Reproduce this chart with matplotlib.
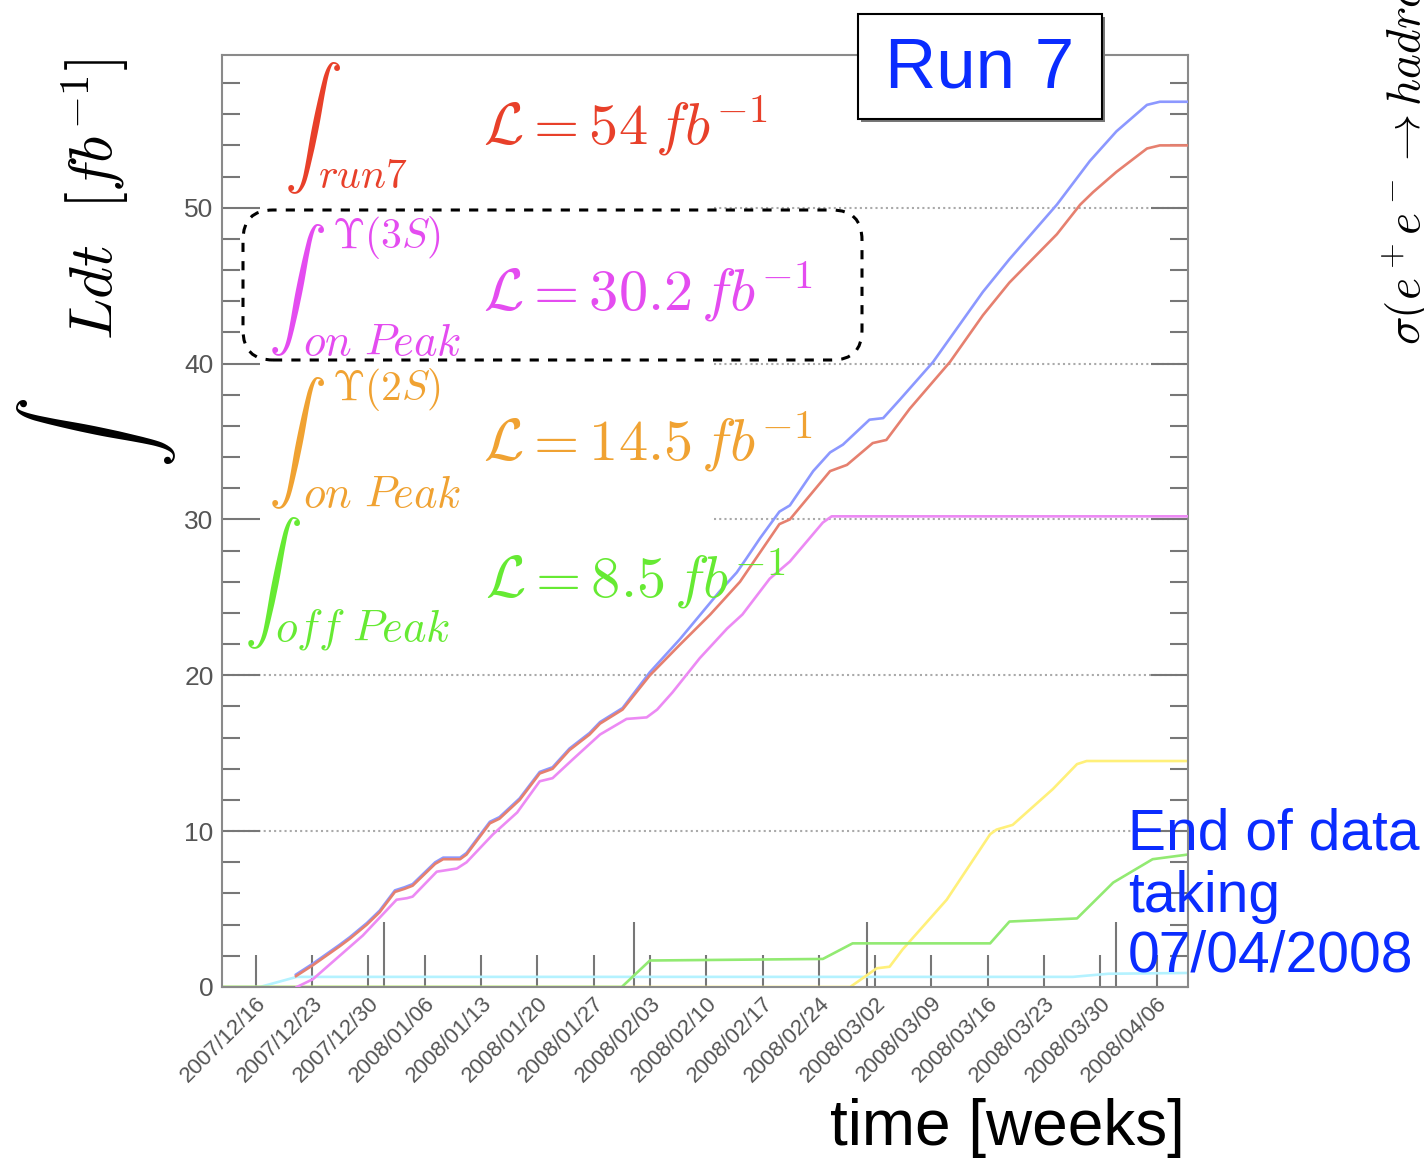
import numpy as np
import matplotlib
matplotlib.use("Agg")
import matplotlib.pyplot as plt
import matplotlib.dates as mdates
from matplotlib.ticker import MultipleLocator
from matplotlib.patches import FancyBboxPatch, Rectangle
from matplotlib.transforms import IdentityTransform

plt.rcParams['mathtext.fontset'] = 'cm'
plt.rcParams['font.family'] = ['Liberation Sans', 'DejaVu Sans']

# Data: days since 2007/12/16, integrated luminosity in fb^-1
blue_days = [5.0, 7.1, 10.4, 11.7, 13.8, 15.4, 17.3, 18.5, 19.5, 22.3, 23.3, 25.4, 26.2,
             29.1, 30.3, 32.8, 35.3, 36.9, 39.0, 41.5, 42.8, 45.6, 49.0, 52.7, 57.7,
             59.8, 61.0, 62.7, 65.1, 66.4, 69.3, 71.4, 73.0, 76.3, 78.0, 80.1, 84.2,
             90.4, 93.7, 99.6, 103.7, 107.0, 110.8, 112.4, 115.9]
blue_vals = [0.8, 1.5, 2.7, 3.2, 4.1, 4.9, 6.2, 6.4, 6.6, 8.0, 8.3, 8.3, 8.6,
             10.6, 10.9, 12.1, 13.8, 14.1, 15.3, 16.3, 17.0, 17.9, 20.2, 22.3, 25.4,
             26.6, 27.5, 28.8, 30.5, 30.9, 33.1, 34.3, 34.8, 36.4, 36.5, 37.7, 40.1,
             44.6, 46.7, 50.2, 53.0, 54.9, 56.6, 56.8, 56.8]

run7_days = [5.0, 7.1, 10.4, 11.7, 13.8, 15.4, 17.3, 18.5, 19.5, 22.3, 23.3, 25.4, 26.2,
             29.1, 30.3, 32.8, 35.3, 36.9, 39.0, 41.5, 42.8, 45.6, 49.0, 52.7, 56.5,
             60.2, 65.1, 66.4, 71.4, 73.5, 76.7, 78.4, 81.3, 86.3, 90.4, 93.7, 99.6,
             102.5, 104.1, 107.0, 110.8, 112.4, 115.9]
run7_vals = [0.7, 1.4, 2.6, 3.1, 4.0, 4.8, 6.1, 6.3, 6.5, 7.9, 8.2, 8.2, 8.5,
             10.5, 10.8, 12.0, 13.7, 14.0, 15.2, 16.2, 16.9, 17.8, 20.0, 21.95, 23.9,
             26.0, 29.7, 30.0, 33.1, 33.5, 34.9, 35.1, 37.1, 40.1, 43.1, 45.2, 48.3,
             50.2, 51.0, 52.3, 53.8, 54.0, 54.0]

y3s_days = [5.1, 7.1, 13.3, 17.5, 18.8, 19.5, 22.5, 25.0, 26.2, 29.5, 32.5, 35.3, 36.9,
            39.4, 42.8, 46.1, 48.6, 49.9, 51.8, 55.2, 58.6, 60.5, 63.9, 66.4, 70.5,
            71.6, 115.9]
y3s_vals = [0.0, 0.5, 3.3, 5.6, 5.7, 5.8, 7.4, 7.6, 8.0, 9.8, 11.2, 13.2, 13.4,
            14.6, 16.2, 17.2, 17.3, 17.8, 18.9, 21.1, 23.0, 23.9, 26.2, 27.3, 29.8,
            30.2, 30.2]

y2s_days = [-4.2, 73.9, 77.2, 78.8, 80.4, 85.9, 91.3, 92.1, 94.1, 99.1, 102.1, 103.3, 115.9]
y2s_vals = [0.0, 0.0, 1.2, 1.3, 2.4, 5.6, 9.8, 10.1, 10.4, 12.7, 14.3, 14.5, 14.5]

off_days = [-4.2, 45.5, 49.0, 70.5, 74.2, 91.3, 93.7, 102.1, 106.6, 111.5, 115.9]
off_vals = [0.0, 0.0, 1.7, 1.8, 2.8, 2.8, 4.2, 4.4, 6.7, 8.2, 8.5]

other_days = [-4.2, 0.5, 5.1, 101.6, 106.0, 115.9]
other_vals = [0.0, 0.0, 0.65, 0.65, 0.85, 0.9]

tick_labels = ['2007/12/16', '2007/12/23', '2007/12/30', '2008/01/06', '2008/01/13',
               '2008/01/20', '2008/01/27', '2008/02/03', '2008/02/10', '2008/02/17',
               '2008/02/24', '2008/03/02', '2008/03/09', '2008/03/16', '2008/03/23',
               '2008/03/30', '2008/04/06']

start = np.datetime64('2007-12-16T00:00')


def to_dates(days):
    return start + (np.asarray(days, dtype=float) * 1440).round().astype('timedelta64[m]')


W, H = 1424, 1158
fig = plt.figure(figsize=(W / 100, H / 100), dpi=100)
ax = fig.add_axes([222 / W, (H - 987) / H, (1188 - 222) / W, (987 - 55) / H])

# grid lines (partly hidden behind the labels in the original)
ax.hlines([10, 20], to_dates(-4.2), to_dates(115.9), colors='#aaaaaa',
          linestyles=(0, (1, 1.5)), lw=1.5, zorder=1)
ax.hlines([30, 40, 50], to_dates(57), to_dates(115.9), colors='#aaaaaa',
          linestyles=(0, (1, 1.5)), lw=1.5, zorder=1)

lw = 1.9
ax.plot(to_dates(other_days), other_vals, color='#b4f2ff', lw=lw, zorder=2)
ax.plot(to_dates(y2s_days), y2s_vals, color='#fff07a', lw=lw, zorder=2)
ax.plot(to_dates(off_days), off_vals, color='#92ea72', lw=lw, zorder=2)
ax.plot(to_dates(y3s_days), y3s_vals, color='#ec8af4', lw=lw, zorder=3)
ax.plot(to_dates(blue_days), blue_vals, color='#8c98ff', lw=lw, zorder=3)
ax.plot(to_dates(run7_days), run7_vals, color='#e6806f', lw=lw, zorder=4)

ax.set_xlim(to_dates(-4.2), to_dates(115.9))
ax.set_ylim(0, 59.8)

tick_dates = [np.datetime64(s.replace('/', '-')) for s in tick_labels]
ax.set_xticks(tick_dates)
ax.set_xticklabels(tick_labels)
ax.xaxis.set_minor_locator(mdates.MonthLocator())
ax.set_yticks([0, 10, 20, 30, 40, 50])
ax.yaxis.set_minor_locator(MultipleLocator(2))

for s in ax.spines.values():
    s.set_color('#8a8a8a')
    s.set_linewidth(1.5)

ax.tick_params(axis='both', which='both', direction='in', color='#777777', width=1.5,
               labelcolor='#555555')
ax.tick_params(axis='y', which='both', left=True, right=True)
ax.tick_params(axis='y', which='major', length=27, labelsize=19, pad=6)
ax.tick_params(axis='y', which='minor', length=13)
ax.tick_params(axis='x', which='major', length=23, labelsize=16, pad=4)
ax.tick_params(axis='x', which='minor', length=47)
plt.setp(ax.get_xticklabels(), rotation=45, ha='right', rotation_mode='anchor')


def ftxt(x, y, s, **kw):
    return fig.text(x / W, 1 - y / H, s, **kw)


red, mag, ora, grn = '#e8402a', '#e44cf0', '#f0a232', '#66ea33'
int_size = 42

ftxt(312, 128, r'$\int$', fontsize=int_size, color=red, ha='center', va='center')
ftxt(318, 188, r'$run7$', fontsize=30, color=red, va='baseline')
ftxt(483, 145, r'$\mathcal{L} = 54\,fb^{-1}$', fontsize=42, color=red, va='baseline')

ftxt(297, 290, r'$\int$', fontsize=int_size, color=mag, ha='center', va='center')
ftxt(332, 248, r'$\Upsilon(3S)$', fontsize=30, color=mag, va='baseline')
ftxt(303, 355, r'$on\ Peak$', fontsize=32, color=mag, va='baseline')
ftxt(483, 310, r'$\mathcal{L} = 30.2\,fb^{-1}$', fontsize=42, color=mag, va='baseline')

ftxt(297, 443, r'$\int$', fontsize=int_size, color=ora, ha='center', va='center')
ftxt(332, 400, r'$\Upsilon(2S)$', fontsize=30, color=ora, va='baseline')
ftxt(303, 507, r'$on\ Peak$', fontsize=32, color=ora, va='baseline')
ftxt(483, 460, r'$\mathcal{L} = 14.5\,fb^{-1}$', fontsize=42, color=ora, va='baseline')

ftxt(272, 583, r'$\int$', fontsize=int_size, color=grn, ha='center', va='center')
ftxt(275, 640, r'$off\ Peak$', fontsize=32, color=grn, va='baseline')
ftxt(485, 597, r'$\mathcal{L} = 8.5\,fb^{-1}$', fontsize=42, color=grn, va='baseline')

# dashed box around the Upsilon(3S) entry
box = FancyBboxPatch((243, H - 360), 862 - 243, 150,
                     boxstyle='round,pad=0,rounding_size=30', transform=IdentityTransform(),
                     fill=False, edgecolor='black', linestyle=(0, (3, 3)), lw=2.2)
fig.patches.append(box)

# Run 7 box
fig.patches.append(Rectangle((861, H - 122), 244, 105, transform=IdentityTransform(),
                             facecolor='#777777', edgecolor='none'))
fig.patches.append(Rectangle((858, H - 119), 244, 105, transform=IdentityTransform(),
                             facecolor='white', edgecolor='black', lw=1.5))
ftxt(980, 70, 'Run 7', fontsize=51, color='#0a2cff', ha='center', va='center')

# y axis label
ftxt(97, 433, r'$\int$', fontsize=52, rotation=90, ha='center', va='center')
ftxt(95, 340, r'$Ldt\ \ [fb^{-1}]$', fontsize=44, rotation=90, ha='center', va='bottom')

# x axis label
ftxt(1185, 1145, 'time [weeks]', fontsize=46, ha='right', va='baseline')

blue_txt = '#0a2cff'
ftxt(1128, 850, 'End of data', fontsize=41, color=blue_txt, va='baseline')
ftxt(1128, 912, 'taking', fontsize=41, color=blue_txt, va='baseline')
ftxt(1128, 972, '07/04/2008', fontsize=41, color=blue_txt, va='baseline')

# cut-off label of the neighbouring panel
ftxt(1380, 345, r'$\sigma(e^+e^-\rightarrow hadrons)$', fontsize=34, rotation=90,
     ha='left', va='bottom')

fig.savefig('out.png', dpi=100)
